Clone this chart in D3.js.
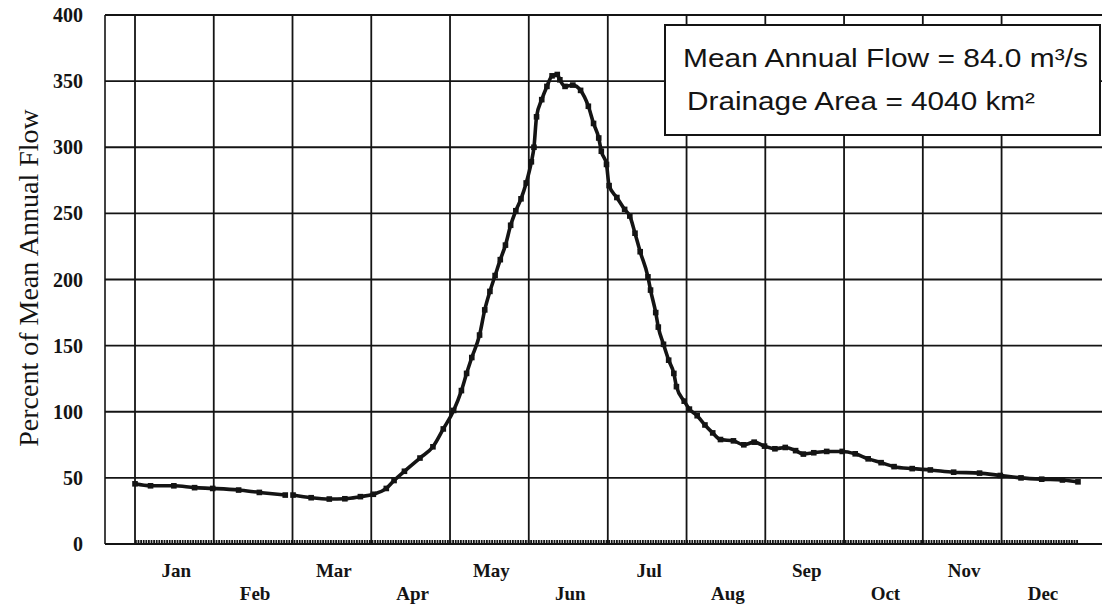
<!DOCTYPE html>
<html>
<head>
<meta charset="utf-8">
<script src="https://cdn.jsdelivr.net/npm/d3@7"></script>
<style>
  body { margin: 0; background: #fff; }
  svg { display: block; }
</style>
</head>
<body>
<div class="chart"></div>
<script>
// day of year -> percent of mean annual flow
var days = [1, 7, 16, 24, 31, 41, 49, 59, 60, 62, 69, 76, 82, 88, 93, 98, 101, 105, 111, 116, 120,
  124, 127, 129, 131, 134, 136, 138, 140, 142, 144, 146, 148, 150, 152, 154, 155, 156, 158, 160,
  162, 164, 165, 167, 170, 173, 176, 178, 180, 181, 183, 184, 187, 190, 192, 194, 196, 199, 200,
  202, 203, 205, 207, 209, 210, 213, 215, 218, 221, 224, 227, 232, 236, 240, 244, 248, 252, 256,
  259, 263, 268, 274, 279, 284, 289, 294, 301, 308, 317, 327, 335, 343, 351, 359, 365];
var flow = [45.5, 44, 44, 42.6, 42, 40.8, 39, 37, null, 37, 35, 34, 34.2, 35.8, 37.6, 42, 48, 55, 65, 73.5, 87,
  101, 116, 129, 141, 158, 177, 191, 203, 215, 226, 241, 252, 261, 273, 289, 300, 323, 336, 346,
  354, 355, 351, 346, 347, 343, 331, 318, 307, 297, 287, 271, 262, 253, 248, 235, 221, 202, 192,
  175, 164, 151, 139, 129, 119, 108, 102, 97, 90, 84, 79, 78, 75, 77, 74, 72, 73, 70.6,
  68, 69, 70, 70, 68.2, 64.4, 61.5, 58.5, 57, 56, 54.3, 53.6, 51.8, 50, 49, 48.4, 47];

var months = ["Jan", "Feb", "Mar", "Apr", "May", "Jun", "Jul", "Aug", "Sep", "Oct", "Nov", "Dec"];
var monthStart = [1, 31.4, 61.8, 92.2, 122.6, 153, 183.5, 213.9, 244.3, 274.7, 305.1, 335.5, 365.9];
var yTicks = [0, 50, 100, 150, 200, 250, 300, 350, 400];
var infoLines = ["Mean Annual Flow = 84.0 m\u00b3/s", "Drainage Area = 4040 km\u00b2"];

var width = 1102, height = 608;
var plotLeft = 105, plotRight = 1102, plotTop = 15, plotBottom = 544;
var ink = "#141414";

var svg = d3.select(".chart")
  .append("svg")
  .attr("width", width)
  .attr("height", height);

var x = d3.scaleLinear().domain([1, 365]).range([135, 1078]);
var y = d3.scaleLinear().domain([0, 400]).range([plotBottom, plotTop]);

// grid
svg.append("g")
  .selectAll("line")
  .data(yTicks)
  .enter()
  .append("line")
  .attr("x1", plotLeft).attr("x2", plotRight)
  .attr("y1", d => y(d)).attr("y2", d => y(d))
  .style("stroke", ink).style("stroke-width", 1.8);

svg.append("g")
  .selectAll("line")
  .data(monthStart.slice(0, 12))
  .enter()
  .append("line")
  .attr("x1", d => x(d)).attr("x2", d => x(d))
  .attr("y1", plotTop).attr("y2", plotBottom)
  .style("stroke", ink).style("stroke-width", 1.8);

svg.append("line")
  .attr("x1", plotLeft).attr("x2", plotLeft)
  .attr("y1", plotTop).attr("y2", plotBottom)
  .style("stroke", ink).style("stroke-width", 1.6);

// y tick labels
svg.append("g")
  .selectAll("text")
  .data(yTicks)
  .enter()
  .append("text")
  .attr("x", 83)
  .attr("y", d => y(d))
  .attr("dy", "0.35em")
  .attr("text-anchor", "end")
  .style("font-family", "'Liberation Serif', 'DejaVu Serif', serif")
  .style("font-weight", "bold")
  .style("font-size", "20px")
  .style("fill", ink)
  .text(d => d);

// month labels, staggered in two rows
svg.append("g")
  .selectAll("text")
  .data(months)
  .enter()
  .append("text")
  .attr("x", (d, i) => x((monthStart[i] + monthStart[i + 1]) / 2) + 2)
  .attr("y", (d, i) => i % 2 === 0 ? 577 : 600)
  .attr("text-anchor", "middle")
  .style("font-family", "'Liberation Serif', 'DejaVu Serif', serif")
  .style("font-weight", "bold")
  .style("font-size", "19px")
  .style("fill", ink)
  .text(d => d);

// y axis title
svg.append("text")
  .attr("transform", "translate(38," + 278 + ") rotate(-90)")
  .attr("text-anchor", "middle")
  .style("font-family", "'Liberation Serif', 'DejaVu Serif', serif")
  .style("font-size", "28px")
  .style("fill", ink)
  .text("Percent of Mean Annual Flow");

// zero series along the bottom
svg.append("line")
  .attr("x1", x(1)).attr("x2", x(365))
  .attr("y1", y(0) - 1.5).attr("y2", y(0) - 1.5)
  .style("stroke", ink).style("stroke-width", 5)
  .style("stroke-dasharray", "1.8,0.8");

// flow curve
var pts = days.map((d, i) => ({ day: d, v: flow[i] }));
var line = d3.line()
  .defined(d => d.v !== null)
  .x(d => x(d.day))
  .y(d => y(d.v))
  .curve(d3.curveMonotoneX);

svg.append("path")
  .datum(pts)
  .attr("d", line)
  .style("fill", "none")
  .style("stroke", ink)
  .style("stroke-width", 3.6)
  .style("stroke-linejoin", "round");

svg.append("g")
  .selectAll("rect")
  .data(pts.filter(d => d.v !== null))
  .enter()
  .append("rect")
  .attr("x", d => x(d.day) - 2.8)
  .attr("y", d => y(d.v) - 2.8)
  .attr("width", 5.6).attr("height", 5.6)
  .style("fill", ink);

// info box
svg.append("rect")
  .attr("x", 665).attr("y", 25)
  .attr("width", 435).attr("height", 110)
  .style("fill", "#fff")
  .style("stroke", ink).style("stroke-width", 2);

svg.append("g")
  .selectAll("text")
  .data(infoLines)
  .enter()
  .append("text")
  .attr("x", (d, i) => i === 0 ? 683 : 687)
  .attr("y", (d, i) => i === 0 ? 67 : 110)
  .attr("textLength", (d, i) => i === 0 ? 405 : 348)
  .attr("lengthAdjust", "spacingAndGlyphs")
  .style("font-family", "'Liberation Sans', Arial, sans-serif")
  .style("font-size", "26px")
  .style("fill", ink)
  .text(d => d);
</script>
</body>
</html>
